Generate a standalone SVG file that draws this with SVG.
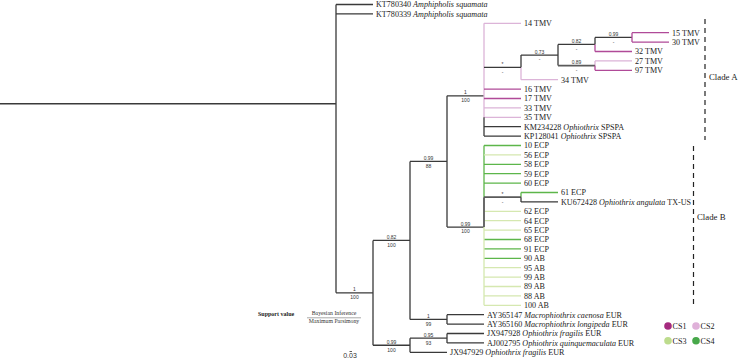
<svg xmlns="http://www.w3.org/2000/svg" width="740" height="359" viewBox="0 0 740 359">
<style>
.b{stroke:#3a3a3a;stroke-width:1.3;fill:none}
.m{stroke:#b04a98;stroke-width:1.3;fill:none}
.p{stroke:#dcb4d8;stroke-width:1.3;fill:none}
.g{stroke:#5db64a;stroke-width:1.3;fill:none}
.l{stroke:#d5e8b0;stroke-width:1.3;fill:none}
.d{stroke:#5a5a5a;stroke-width:1.8;fill:none}
.t{font-family:"Liberation Serif","Times New Roman",serif;font-size:8.1px;fill:#222}
.s{font-family:"Liberation Sans",Arial,sans-serif;font-size:5px;fill:#333;text-anchor:middle}
.c{font-family:"Liberation Serif","Times New Roman",serif;font-size:8.8px;fill:#222}
.dash{stroke:#222;stroke-width:1.2;stroke-dasharray:5 4;fill:none}
</style>
<rect width="740" height="359" fill="#fff"/>
<g id="connectors">
<path class="b" d="M0,103.74H336M336,4.5V292.83M336,4.5H373M336,13.9H373M336,292.83H373M373,240.41V345.25M373,240.41H410M410,161.42V319.4M410,161.42H447M447,95.78V227.06M447,95.78H484M447,227.06H484M410,319.4H447M447,314.7V324.1M447,314.7H484M447,324.1H484M373,345.25H410M410,338.2V352.3M410,338.2H447M447,333.5V342.9M447,333.5H484M447,342.9H484M410,352.3H447"/>
<path class="p" d="M484,23.3V117.3M484,23.3H521M484,107.9H521M484,117.3H521M521,67.36V79.7M521,79.7H558M595,60.9V65.6M595,60.9H632"/>
<path class="b" d="M484,117.3V136.1M484,67.36H521M484,126.7H521M484,136.1H521M521,55.03V67.36M521,55.03H558M558,44.45V65.6M558,44.45H595M595,37.4V44.45M595,37.4H632"/>
<path class="d" d="M558,65.6H595"/>
<path class="m" d="M484,89.1H521M595,44.45V51.5M595,51.5H632M595,65.6V70.3M595,70.3H632M632,32.7V42.1M632,32.7H669M632,42.1H669"/>
<path class="m" stroke-width="2" d="M484,98.5H521"/>
<path class="g" d="M484,145.5V197.2M484,145.5H521M484,164.3H521M484,173.7H521M484,183.1H521M484,239.5H521M484,258.3H521M521,192.5V197.2M521,192.5H558"/>
<path class="g" stroke="#6f9c5e" d="M484,248.9H521"/>
<path class="l" d="M484,227.06V305.3M484,154.9H521M484,211.3H521M484,220.7H521M484,230.1H521M484,267.7H521M484,277.1H521M484,286.5H521M484,295.9H521M484,305.3H521"/>
<path class="d" d="M484,197.2V227.06M484,197.2H521"/>
<path class="b" d="M521,197.2V201.9M521,201.9H558"/>
</g>
<g id="taxa">
<g id="t-KT780340"><text class="t" x="376" y="7.3">KT780340 <tspan font-style="italic">Amphipholis squamata</tspan></text></g>
<g id="t-KT780339"><text class="t" x="376" y="16.7">KT780339 <tspan font-style="italic">Amphipholis squamata</tspan></text></g>
<g id="t-14TMV"><text class="t" x="524" y="26.1">14 TMV</text></g>
<g id="t-15TMV"><text class="t" x="672" y="35.5">15 TMV</text></g>
<g id="t-30TMV"><text class="t" x="672" y="44.9">30 TMV</text></g>
<g id="t-32TMV"><text class="t" x="635" y="54.3">32 TMV</text></g>
<g id="t-27TMV"><text class="t" x="635" y="63.7">27 TMV</text></g>
<g id="t-97TMV"><text class="t" x="635" y="73.1">97 TMV</text></g>
<g id="t-34TMV"><text class="t" x="561" y="82.5">34 TMV</text></g>
<g id="t-16TMV"><text class="t" x="524" y="91.9">16 TMV</text></g>
<g id="t-17TMV"><text class="t" x="524" y="101.3">17 TMV</text></g>
<g id="t-33TMV"><text class="t" x="524" y="110.7">33 TMV</text></g>
<g id="t-35TMV"><text class="t" x="524" y="120.1">35 TMV</text></g>
<g id="t-KM234228"><text class="t" x="524" y="129.5">KM234228 <tspan font-style="italic">Ophiothrix</tspan> SPSPA</text></g>
<g id="t-KP128041"><text class="t" x="524" y="138.9">KP128041 <tspan font-style="italic">Ophiothrix</tspan> SPSPA</text></g>
<g id="t-10ECP"><text class="t" x="524" y="148.3">10 ECP</text></g>
<g id="t-56ECP"><text class="t" x="524" y="157.7">56 ECP</text></g>
<g id="t-58ECP"><text class="t" x="524" y="167.1">58 ECP</text></g>
<g id="t-59ECP"><text class="t" x="524" y="176.5">59 ECP</text></g>
<g id="t-60ECP"><text class="t" x="524" y="185.9">60 ECP</text></g>
<g id="t-61ECP"><text class="t" x="561" y="195.3">61 ECP</text></g>
<g id="t-KU672428"><text class="t" x="561" y="204.7">KU672428 <tspan font-style="italic">Ophiothrix angulata</tspan> TX-US</text></g>
<g id="t-62ECP"><text class="t" x="524" y="214.1">62 ECP</text></g>
<g id="t-64ECP"><text class="t" x="524" y="223.5">64 ECP</text></g>
<g id="t-65ECP"><text class="t" x="524" y="232.9">65 ECP</text></g>
<g id="t-68ECP"><text class="t" x="524" y="242.3">68 ECP</text></g>
<g id="t-91ECP"><text class="t" x="524" y="251.7">91 ECP</text></g>
<g id="t-90AB"><text class="t" x="524" y="261.1">90 AB</text></g>
<g id="t-95AB"><text class="t" x="524" y="270.5">95 AB</text></g>
<g id="t-99AB"><text class="t" x="524" y="279.9">99 AB</text></g>
<g id="t-89AB"><text class="t" x="524" y="289.3">89 AB</text></g>
<g id="t-88AB"><text class="t" x="524" y="298.7">88 AB</text></g>
<g id="t-100AB"><text class="t" x="524" y="308.1">100 AB</text></g>
<g id="t-AY365147"><text class="t" x="487" y="317.5">AY365147 <tspan font-style="italic">Macrophiothrix caenosa</tspan> EUR</text></g>
<g id="t-AY365160"><text class="t" x="487" y="326.9">AY365160 <tspan font-style="italic">Macrophiothrix longipeda</tspan> EUR</text></g>
<g id="t-JX947928"><text class="t" x="487" y="336.3">JX947928 <tspan font-style="italic">Ophiothrix fragilis</tspan> EUR</text></g>
<g id="t-AJ002795"><text class="t" x="487" y="345.7">AJ002795 <tspan font-style="italic">Ophiothrix quinquemaculata</tspan> EUR</text></g>
<g id="t-JX947929"><text class="t" x="450" y="355.1">JX947929 <tspan font-style="italic">Ophiothrix fragilis</tspan> EUR</text></g>
</g>
<g id="supports">
<g id="n-ingroup"><text class="s" x="354.5" y="291.3">1</text><text class="s" x="354.5" y="299.1">100</text></g>
<g id="n-082-100"><text class="s" x="391.5" y="238.9">0.82</text><text class="s" x="391.5" y="246.7">100</text></g>
<g id="n-099-88"><text class="s" x="428.5" y="159.9">0.99</text><text class="s" x="428.5" y="167.7">88</text></g>
<g id="n-cladeA"><text class="s" x="465.5" y="94.3">1</text><text class="s" x="465.5" y="102.1">100</text></g>
<g id="n-star"><text class="s" x="502.5" y="65.9">*</text><text class="s" x="502.5" y="73.7">-</text></g>
<g id="n-073"><text class="s" x="539.5" y="53.5">0.73</text><text class="s" x="539.5" y="61.3">-</text></g>
<g id="n-082"><text class="s" x="576.5" y="42.9">0.82</text><text class="s" x="576.5" y="50.7">-</text></g>
<g id="n-089"><text class="s" x="576.5" y="64.1">0.89</text><text class="s" x="576.5" y="71.9">-</text></g>
<g id="n-099top"><text class="s" x="613.5" y="35.9">0.99</text><text class="s" x="613.5" y="43.7">-</text></g>
<g id="n-61"><text class="s" x="502.5" y="195.7">*</text><text class="s" x="502.5" y="203.5">-</text></g>
<g id="n-cladeB"><text class="s" x="465.5" y="225.6">0.99</text><text class="s" x="465.5" y="233.4">100</text></g>
<g id="n-AY"><text class="s" x="428.5" y="317.9">1</text><text class="s" x="428.5" y="325.7">99</text></g>
<g id="n-095"><text class="s" x="428.5" y="336.7">0.95</text><text class="s" x="428.5" y="344.5">93</text></g>
<g id="n-low099"><text class="s" x="391.5" y="343.8">0.99</text><text class="s" x="391.5" y="351.6">100</text></g>
</g>
<g id="clade-A">
<path class="dash" d="M705,19V140"/>
<text class="c" x="709" y="80">Clade A</text>
</g>
<g id="clade-B">
<path class="dash" d="M693.5,146V308"/>
<text class="c" x="697" y="220">Clade B</text>
</g>
<g id="support-key">
<text x="258" y="316.2" font-family="Liberation Serif,serif" font-size="6px" font-weight="bold" fill="#222">Support value</text>
<text x="334" y="315.3" font-family="Liberation Serif,serif" font-size="5.8px" fill="#333" text-anchor="middle">Bayesian Inference</text>
<path d="M307,317.8H361" stroke="#555" stroke-width="0.5"/>
<text x="334" y="323.4" font-family="Liberation Serif,serif" font-size="5.8px" fill="#333" text-anchor="middle">Maximum Parsimony</text>
</g>
<g id="scale">
<path d="M349.5,351.5H352" stroke="#333" stroke-width="0.8"/>
<text x="350" y="358.3" font-family="Liberation Sans,Arial,sans-serif" font-size="7px" fill="#333" text-anchor="middle">0.03</text>
</g>
<g id="legend">
<circle cx="668" cy="326" r="3.8" fill="#a52a7f"/>
<text class="t" x="672.5" y="328.8" font-size="8.2px">CS1</text>
<circle cx="696" cy="326" r="3.8" fill="#dfb1d9"/>
<text class="t" x="700.5" y="328.8" font-size="8.2px">CS2</text>
<circle cx="668" cy="340.7" r="3.8" fill="#bddc8d"/>
<text class="t" x="672.5" y="343.5" font-size="8.2px">CS3</text>
<circle cx="696" cy="340.7" r="3.8" fill="#47a84a"/>
<text class="t" x="700.5" y="343.5" font-size="8.2px">CS4</text>
</g>
</svg>
